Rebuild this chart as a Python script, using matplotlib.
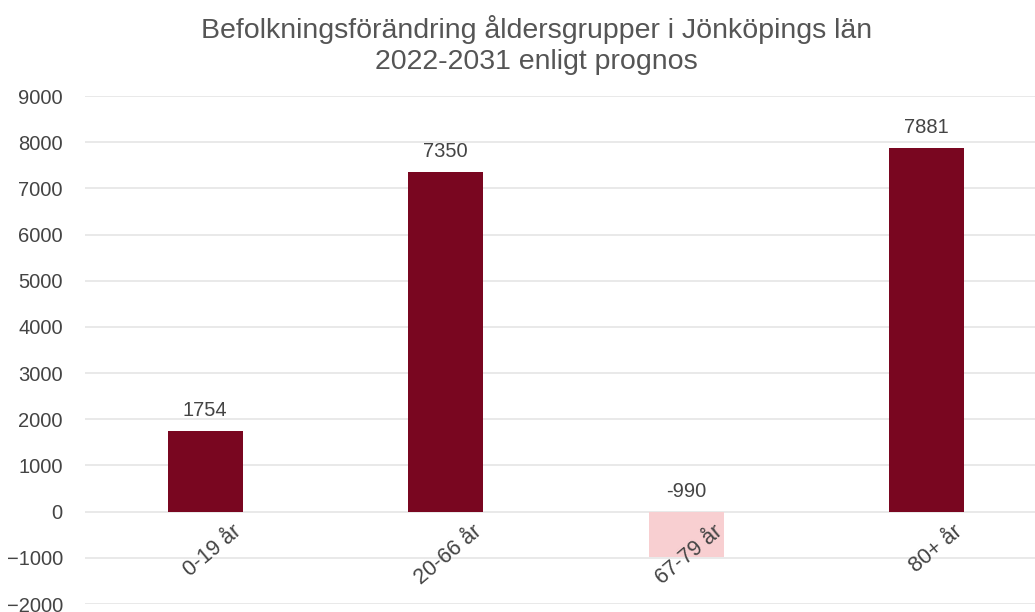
import matplotlib
matplotlib.use("Agg")
import matplotlib.pyplot as plt

plt.rcParams['font.family'] = ['Liberation Sans', 'DejaVu Sans']

groups = ['0-19 år', '20-66 år', '67-79 år', '80+ år']
values = [1754, 7350, -990, 7881]
title = 'Befolkningsförändring åldersgrupper i Jönköpings län\n2022-2031 enligt prognos'

dark = '#790620'
pink = '#F8CFD1'
colors = [dark if v >= 0 else pink for v in values]
text_c = '#444444'

fig = plt.figure(figsize=(10.35, 6.12), dpi=100)
ax = fig.add_axes([85 / 1035, 1 - 604 / 612, 1 - 85 / 1035, (604 - 96) / 612])

x = range(len(groups))
ax.bar(x, values, width=0.31, color=colors, zorder=3)

ax.set_ylim(-2000, 9000)
ax.set_yticks(range(-2000, 9001, 1000))
ax.set_xlim(-0.5, 3.45)
ax.set_xticks([])
ax.grid(axis='y', color='#E5E5E5', linewidth=1.2, zorder=0)
for s in ax.spines.values():
    s.set_visible(False)
ax.tick_params(axis='y', length=0, pad=16, labelsize=14.5, labelcolor=text_c)

for i, v in enumerate(values):
    ax.annotate(str(v), (i, max(v, 0)), xytext=(0, 8), textcoords='offset points',
                ha='center', va='bottom', fontsize=14.5, color=text_c)
    ax.annotate(groups[i], (i + 0.11, 0), xytext=(0, -7), textcoords='offset points',
                ha='right', va='top', rotation=40, rotation_mode='anchor',
                fontsize=15.5, color=text_c)

fig.text(0.518, 0.975, title, ha='center', va='top', fontsize=20.5, color='#555555',
         linespacing=1.25)

fig.savefig('out.png', dpi=100)
